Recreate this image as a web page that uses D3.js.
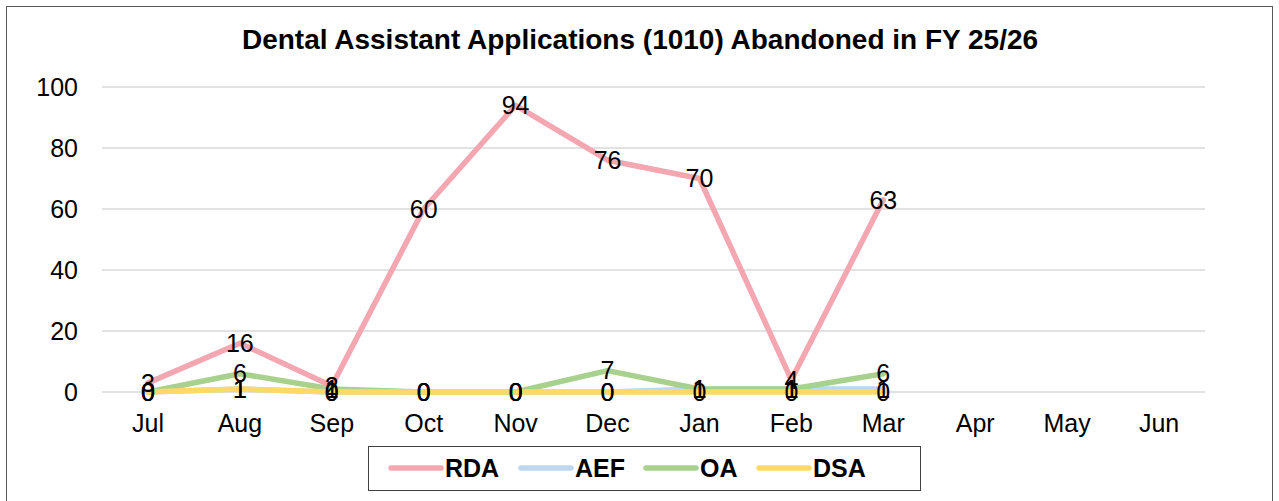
<!DOCTYPE html>
<html>
<head>
<meta charset="utf-8">
<script src="https://cdn.jsdelivr.net/npm/d3@7"></script>
<style>
  body { margin: 0; background: #fff; }
  svg { font-family: "Liberation Sans", Arial, sans-serif; }
</style>
</head>
<body>
<svg id="chart"></svg>
<script>
// months of the fiscal year
const months = ["Jul", "Aug", "Sep", "Oct", "Nov", "Dec", "Jan", "Feb", "Mar", "Apr", "May", "Jun"];
const yTicks = [0, 20, 40, 60, 80, 100];

// abandoned applications per series (Jul..Mar reported so far)
const rda = [3, 16, 2, 60, 94, 76, 70, 4, 63];
const aef = [0, 1, 0, 0, 0, 0, 1, 1, 1];
const oa = [0, 6, 1, 0, 0, 7, 1, 1, 6];
const dsa = [0, 1, 0, 0, 0, 0, 0, 0, 0];

const seriesNames = ["RDA", "AEF", "OA", "DSA"];
const seriesColors = ["#F4A6B1", "#BDD7EE", "#A9D18E", "#FFD966"];
const seriesValues = [rda, aef, oa, dsa];

const W = 1279, H = 501;
const margin = { top: 87, right: 74, bottom: 109, left: 102 };
const width = W - margin.left - margin.right,
	height = H - margin.top - margin.bottom;
const fs = "25px";

const svg = d3.select("#chart")
	.attr("width", W)
	.attr("height", H);

// outer chart border
svg.append("rect")
	.attr("x", 6.5).attr("y", 6.5)
	.attr("width", 1266).attr("height", 500)
	.attr("fill", "#fff")
	.attr("stroke", "#595959")
	.attr("stroke-width", 1);

svg.append("text")
	.attr("x", 640).attr("y", 49)
	.attr("text-anchor", "middle")
	.style("font-size", "28px")
	.style("font-weight", "bold")
	.text("Dental Assistant Applications (1010) Abandoned in FY 25/26");

const g = svg.append("g")
	.attr("transform", `translate(${margin.left}, ${margin.top})`);

const x = d3.scaleBand()
	.domain(months)
	.range([0, width]);

const y = d3.scaleLinear()
	.domain([0, 100])
	.range([height, 0]);

// gridlines
g.append("g")
	.selectAll("line")
	.data(yTicks)
	.join("line")
	.attr("x1", 0).attr("x2", width)
	.attr("y1", d => y(d)).attr("y2", d => y(d))
	.attr("stroke", "#d9d9d9")
	.attr("stroke-width", 1.5);

// Y axis labels
const yAxis = g.append("g")
	.call(d3.axisLeft(y).tickValues(yTicks).tickSize(0).tickPadding(24));
yAxis.select(".domain").remove();
yAxis.selectAll("text")
	.style("font-size", fs)
	.style("font-family", "Liberation Sans, Arial, sans-serif")
	.attr("fill", "#000");

// X axis labels
const xAxis = g.append("g")
	.attr("transform", `translate(0, ${height})`)
	.call(d3.axisBottom(x).tickSize(0).tickPadding(22));
xAxis.select(".domain").remove();
xAxis.selectAll("text")
	.style("font-size", fs)
	.style("font-family", "Liberation Sans, Arial, sans-serif")
	.attr("fill", "#000");

const line = d3.line()
	.x((d, i) => x(months[i]) + x.bandwidth() / 2)
	.y(d => y(d));

// lines
seriesValues.forEach((vals, s) => {
	g.append("path")
		.datum(vals)
		.attr("d", line)
		.attr("fill", "none")
		.attr("stroke", seriesColors[s])
		.attr("stroke-width", 5.5)
		.attr("stroke-linejoin", "round")
		.attr("stroke-linecap", "round");
});

// data labels, centred on the points
seriesValues.forEach((vals, s) => {
	g.append("g")
		.selectAll("text")
		.data(vals)
		.join("text")
		.attr("x", (d, i) => x(months[i]) + x.bandwidth() / 2)
		.attr("y", d => y(d))
		.attr("dy", "0.35em")
		.attr("text-anchor", "middle")
		.style("font-size", fs)
		.text(d => d);
});

// legend
const legend = svg.append("g");
legend.append("rect")
	.attr("x", 368.5).attr("y", 446.5)
	.attr("width", 552).attr("height", 44)
	.attr("fill", "#fff")
	.attr("stroke", "#404040")
	.attr("stroke-width", 1);

const legendX = [391, 521, 646, 759];
seriesNames.forEach((name, s) => {
	const lx = legendX[s];
	legend.append("line")
		.attr("x1", lx).attr("x2", lx + 50)
		.attr("y1", 468).attr("y2", 468)
		.attr("stroke", seriesColors[s])
		.attr("stroke-width", 5.5)
		.attr("stroke-linecap", "round");
	legend.append("text")
		.attr("x", lx + 54).attr("y", 477)
		.style("font-size", fs)
		.style("font-weight", "bold")
		.text(name);
});
</script>
</body>
</html>
